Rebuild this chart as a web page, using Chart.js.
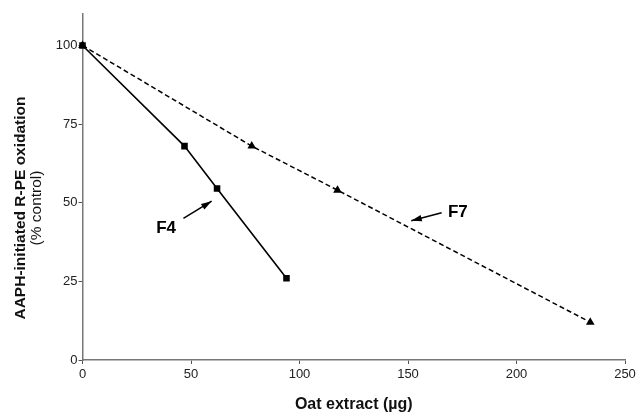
<!DOCTYPE html>
<html>
<head>
<meta charset="utf-8">
<script src="https://cdn.jsdelivr.net/npm/chart.js@4"></script>
<style>
  html, body { margin: 0; padding: 0; background: #fff; }
  #wrap { width: 639px; height: 418px; position: relative; }
</style>
</head>
<body>
<div id="wrap"><canvas id="oatChart" width="639" height="418"></canvas></div>
<script>
// data
const f4X = [0, 47, 62, 94];
const f4Y = [100, 68, 54.5, 26];
const f7X = [0, 78, 117.5, 234];
const f7Y = [100, 68, 54, 12];
const xTicks = [0, 50, 100, 150, 200, 250];
const yTicks = [0, 25, 50, 75, 100];
const yTitle = ['AAPH-initiated R-PE oxidation', '(% control)'];
const xTitle = 'Oat extract (\u00b5g)';
// labels with arrows: [label, labelX, labelY, fromX, fromY, toX, toY]
const notes = [
  ['F4', 38.5, 42, 46.5, 45, 59.5, 50.5],
  ['F7', 173, 47, 165.5, 46.8, 151.5, 44.3]
];

const FONT = '"Liberation Sans", Arial, Helvetica, sans-serif';

function pts(xs, ys) {
  return xs.map((x, i) => ({x: x, y: ys[i]}));
}

const notesPlugin = {
  id: 'notes',
  afterDatasetsDraw(chart) {
    const ctx = chart.ctx;
    const xs = chart.scales.x, ys = chart.scales.y;
    ctx.save();
    notes.forEach(n => {
      const x0 = xs.getPixelForValue(n[3]), y0 = ys.getPixelForValue(n[4]);
      const x1 = xs.getPixelForValue(n[5]), y1 = ys.getPixelForValue(n[6]);
      ctx.strokeStyle = '#000';
      ctx.fillStyle = '#000';
      ctx.lineWidth = 1.5;
      ctx.beginPath();
      ctx.moveTo(x0, y0);
      ctx.lineTo(x1, y1);
      ctx.stroke();
      const a = Math.atan2(y1 - y0, x1 - x0);
      ctx.beginPath();
      ctx.moveTo(x1, y1);
      ctx.lineTo(x1 - 11 * Math.cos(a - 0.3), y1 - 11 * Math.sin(a - 0.3));
      ctx.lineTo(x1 - 11 * Math.cos(a + 0.3), y1 - 11 * Math.sin(a + 0.3));
      ctx.closePath();
      ctx.fill();
      ctx.font = 'bold 17px ' + FONT;
      ctx.textAlign = 'center';
      ctx.textBaseline = 'middle';
      ctx.fillText(n[0], xs.getPixelForValue(n[1]), ys.getPixelForValue(n[2]));
    });
    // y axis title, two lines
    ctx.translate(0, 208);
    ctx.rotate(-Math.PI / 2);
    ctx.textAlign = 'center';
    ctx.textBaseline = 'middle';
    ctx.fillStyle = '#111';
    ctx.font = 'bold 15.5px ' + FONT;
    ctx.fillText(yTitle[0], 0, 21);
    ctx.font = '15.5px ' + FONT;
    ctx.fillText(yTitle[1], 0, 37);
    ctx.restore();
  }
};

const ctx = document.getElementById('oatChart').getContext('2d');
new Chart(ctx, {
  type: 'scatter',
  data: {
    datasets: [{
      label: 'F4',
      data: pts(f4X, f4Y),
      showLine: true,
      clip: false,
      borderColor: '#000',
      backgroundColor: '#000',
      borderWidth: 1.6,
      pointStyle: 'rect',
      pointRadius: 3.5,
      pointHoverRadius: 3.5
    }, {
      label: 'F7',
      data: pts(f7X, f7Y),
      showLine: true,
      clip: false,
      borderColor: '#000',
      backgroundColor: '#000',
      borderWidth: 1.5,
      borderDash: [5, 3],
      pointStyle: 'triangle',
      pointRadius: 3.5,
      pointHoverRadius: 3.5
    }]
  },
  options: {
    responsive: false,
    animation: false,
    layout: { padding: { top: 14, right: 14, left: 0, bottom: 0 } },
    plugins: {
      legend: { display: false },
      tooltip: { enabled: false }
    },
    scales: {
      x: {
        type: 'linear',
        min: 0, max: 250,
        afterBuildTicks: s => { s.ticks = xTicks.map(v => ({value: v})); },
        afterFit: s => { s.height = 58; },
        grid: { display: true, drawOnChartArea: false, drawTicks: true, tickLength: 4, color: '#555' },
        border: { display: true, color: '#777', width: 1.5 },
        ticks: { color: '#222', font: { family: FONT, size: 13 }, padding: 3, maxRotation: 0 },
        title: { display: true, text: xTitle, color: '#111', font: { family: FONT, size: 16, weight: 'bold' }, padding: { top: 10 } }
      },
      y: {
        type: 'linear',
        min: 0, max: 110,
        afterBuildTicks: s => { s.ticks = yTicks.map(v => ({value: v})); },
        afterFit: s => { s.width = 82.5; },
        grid: { display: true, drawOnChartArea: false, drawTicks: true, tickLength: 4, color: '#555' },
        border: { display: true, color: '#777', width: 1.5 },
        ticks: { color: '#222', font: { family: FONT, size: 13 }, padding: 1 }
      }
    }
  },
  plugins: [notesPlugin]
});
</script>
</body>
</html>
